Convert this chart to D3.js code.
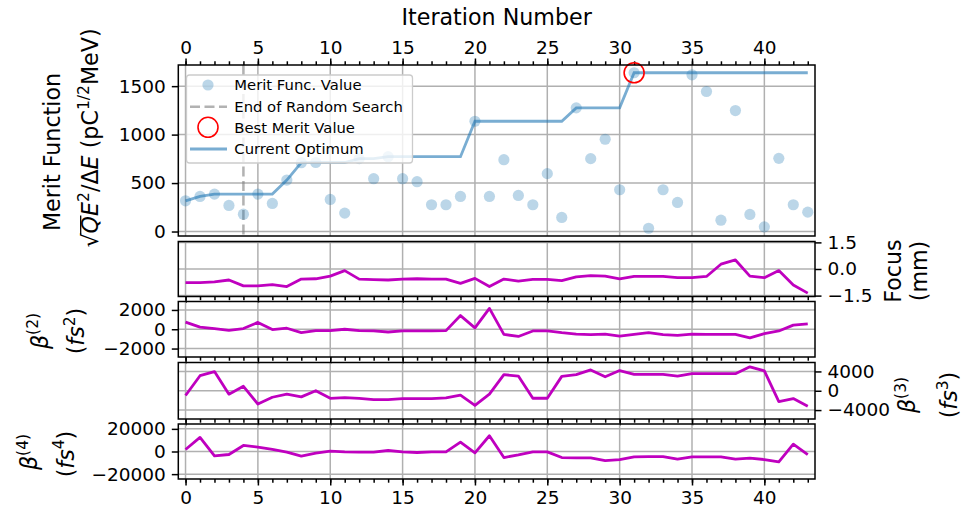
<!DOCTYPE html>
<html>
<head>
<meta charset="utf-8">
<script src="https://cdn.jsdelivr.net/npm/d3@7"></script>
<style>
  body { margin: 0; background: #fff; }
  svg { display: block; }
  text { font-family: "DejaVu Sans", sans-serif; }
</style>
</head>
<body>
<svg id="chart" width="962" height="516"></svg>
<script>
// Optimisation history: merit function per iteration and the tuned laser parameters
const meritValues = [317, 362, 386, 269, 179, 386, 290, 531, 710, 712, 331, 190, 752, 545, 772, 545, 514, 276, 276, 362,
  1138, 362, 741, 372, 276, 597, 145, 1276, 752, 952, 431, 1638, 34, 431, 300, 1617, 1445, 117, 1248, 176, 48, 755, 276, 200];
const focusMm = [-0.77, -0.77, -0.73, -0.62, -0.95, -0.95, -0.88, -0.99, -0.57, -0.55, -0.40, -0.09, -0.57, -0.60, -0.62,
  -0.57, -0.55, -0.57, -0.57, -0.81, -0.53, -0.99, -0.57, -0.68, -0.59, -0.59, -0.66, -0.44, -0.37, -0.40, -0.55, -0.42,
  -0.42, -0.42, -0.49, -0.49, -0.42, 0.27, 0.51, -0.40, -0.49, -0.09, -0.90, -1.36];
const beta2 = [745, 213, 71, -106, 71, 709, -35, 106, -355, -142, -142, 0, -142, -177, -284, -177, -177, -177, -142, 1418,
  142, 2163, -532, -745, -177, -177, -355, -496, -567, -496, -709, -532, -355, -567, -638, -496, -532, -532, -532, -887,
  -461, -177, 426, 567];
const beta3 = [-991, 3115, 3965, -708, 920, -2761, -1345, -708, -1274, 0, -1558, -1416, -1558, -1841, -1841, -1628, -1628,
  -1628, -1487, -920, -3044, -708, 3328, 3044, -1558, -1558, 2974, 3328, 4319, 2903, 4177, 3398, 3398, 3398, 3044, 3540,
  3540, 3540, 3540, 4956, 4106, -2266, -1628, -3186];
const beta4 = [1778, 12444, -3852, -2667, 5333, 3852, 1778, -593, -4148, -1481, 296, -296, -593, -593, 889, -296, -889,
  -296, -296, 8296, -1185, 13926, -5333, -2963, -296, -296, -5333, -5630, -5630, -8000, -7111, -4741, -4444, -4444, -6815,
  -4741, -4741, -4741, -6815, -5926, -7111, -9185, 6519, -2667];
const randomSearchEnd = 4;

const xMajorTicks = [0, 5, 10, 15, 20, 25, 30, 35, 40];
const meritTicks = [0, 500, 1000, 1500];
const focusTicks = [-1.5, 0, 1.5];
const beta2Ticks = [-2000, 0, 2000];
const beta3Ticks = [-4000, 0, 4000];
const beta4Ticks = [-20000, 0, 20000];
const legendLabels = ["Merit Func. Value", "End of Random Search", "Best Merit Value", "Current Optimum"];

const iterations = meritValues.map((_, i) => i);
const currentOptimum = [];
meritValues.reduce((best, v) => { const b = Math.max(best, v); currentOptimum.push(b); return b; }, -Infinity);
const bestIndex = d3.maxIndex(meritValues);

// ---- layout ----
const svg = d3.select("#chart");
const X0 = 178.3, X1 = 815;
const FS_TICK = 18.5, FS_LABEL = 22.2, FS_LEGEND = 14.8;
const BLUE = "#1f77b4", MAGENTA = "#bf00bf", GRID = "#b0b0b0";
const minus = s => String(s).replace("-", "\u2212");

const x = d3.scaleLinear().domain([-0.5, 43.5]).range([X0, X1]);

const mExt = d3.extent(meritValues), mPad = (mExt[1] - mExt[0]) * 0.05;
const panels = [
  { top: 65, bottom: 236, domain: [mExt[0] - mPad, mExt[1] + mPad], ticks: meritTicks, side: "left", fmt: d => minus(d) },
  { top: 241.5, bottom: 296.5, domain: [-1.55, 1.55], ticks: focusTicks, side: "right", fmt: d => minus(d3.format(".1f")(d)), data: focusMm },
  { top: 301.5, bottom: 357, domain: [-2875, 2875], ticks: beta2Ticks, side: "left", fmt: d => minus(d), data: beta2 },
  { top: 362.5, bottom: 419, domain: [-5850, 5850], ticks: beta3Ticks, side: "right", fmt: d => minus(d), data: beta3 },
  { top: 424, bottom: 479, domain: [-24300, 24300], ticks: beta4Ticks, side: "left", fmt: d => minus(d), data: beta4 }
];
panels.forEach(p => { p.y = d3.scaleLinear().domain(p.domain).range([p.bottom, p.top]); });

function styleAxis(g) {
  g.select(".domain").remove();
  g.attr("font-family", null).attr("font-size", null);
  g.selectAll(".tick line").attr("stroke", "#000").attr("stroke-width", 1.5);
  g.selectAll(".tick text").attr("fill", "#000").style("font-size", FS_TICK + "px");
}

panels.forEach((p, idx) => {
  const g = svg.append("g");
  // grid
  g.append("g").selectAll("line").data(xMajorTicks).join("line")
    .attr("x1", d => x(d)).attr("x2", d => x(d)).attr("y1", p.top).attr("y2", p.bottom)
    .attr("stroke", GRID).attr("stroke-width", 1.5);
  g.append("g").selectAll("line").data(p.ticks).join("line")
    .attr("x1", X0).attr("x2", X1).attr("y1", d => p.y(d)).attr("y2", d => p.y(d))
    .attr("stroke", GRID).attr("stroke-width", 1.5);

  // y axis
  const yAxis = (p.side === "left" ? d3.axisLeft(p.y) : d3.axisRight(p.y))
    .tickValues(p.ticks).tickSize(6.5).tickPadding(6).tickFormat(p.fmt);
  g.append("g").attr("transform", `translate(${p.side === "left" ? X0 : X1},0)`).call(yAxis).call(styleAxis);

  // x axis ticks (labels on top of first panel and bottom of last)
  const isTop = idx === 0, isLast = idx === panels.length - 1;
  const mk = isTop ? d3.axisTop : d3.axisBottom;
  const yPos = isTop ? p.top : p.bottom;
  g.append("g").attr("transform", `translate(0,${yPos})`)
    .call(mk(x).tickValues(iterations).tickSize(3.7).tickFormat("")).call(styleAxis);
  g.append("g").attr("transform", `translate(0,${yPos})`)
    .call(mk(x).tickValues(xMajorTicks).tickSize(6.5).tickPadding(5)
      .tickFormat(isTop || isLast ? d3.format("d") : "")).call(styleAxis);

  // data
  if (p.data) {
    g.append("path").datum(p.data)
      .attr("d", d3.line().x((d, i) => x(i)).y(d => p.y(d)))
      .attr("fill", "none").attr("stroke", MAGENTA).attr("stroke-width", 2.8)
      .attr("stroke-linejoin", "round");
  } else {
    g.append("line")
      .attr("x1", x(randomSearchEnd)).attr("x2", x(randomSearchEnd)).attr("y1", p.top).attr("y2", p.bottom)
      .attr("stroke", "#7f7f7f").attr("stroke-opacity", 0.6).attr("stroke-width", 2.5)
      .attr("stroke-dasharray", "10,4.5");
    g.append("g").selectAll("circle").data(meritValues).join("circle")
      .attr("cx", (d, i) => x(i)).attr("cy", d => p.y(d)).attr("r", 5.6)
      .attr("fill", BLUE).attr("fill-opacity", 0.3);
    g.append("path").datum(currentOptimum)
      .attr("d", d3.line().x((d, i) => x(i)).y(d => p.y(d)))
      .attr("fill", "none").attr("stroke", BLUE).attr("stroke-opacity", 0.6).attr("stroke-width", 2.8);
    g.append("circle").attr("cx", x(bestIndex)).attr("cy", p.y(meritValues[bestIndex])).attr("r", 10)
      .attr("fill", "none").attr("stroke", "red").attr("stroke-width", 1.6);
  }

  // frame
  g.append("rect").attr("x", X0).attr("y", p.top).attr("width", X1 - X0).attr("height", p.bottom - p.top)
    .attr("fill", "none").attr("stroke", "#000").attr("stroke-width", 1.5);
});

// ---- legend ----
const lg = svg.append("g");
lg.append("rect").attr("x", 186.5).attr("y", 75).attr("width", 226).attr("height", 88).attr("rx", 3)
  .attr("fill", "#fff").attr("fill-opacity", 0.8).attr("stroke", "#cccccc").attr("stroke-width", 1.3);
const rowY = [85, 106.7, 127.3, 149];
lg.append("circle").attr("cx", 208).attr("cy", rowY[0]).attr("r", 5.6).attr("fill", BLUE).attr("fill-opacity", 0.3);
lg.append("line").attr("x1", 190).attr("x2", 227).attr("y1", rowY[1]).attr("y2", rowY[1])
  .attr("stroke", "#7f7f7f").attr("stroke-opacity", 0.6).attr("stroke-width", 2.5).attr("stroke-dasharray", "10,4.5");
lg.append("circle").attr("cx", 208).attr("cy", rowY[2]).attr("r", 10)
  .attr("fill", "none").attr("stroke", "red").attr("stroke-width", 1.6);
lg.append("line").attr("x1", 190).attr("x2", 227).attr("y1", rowY[3]).attr("y2", rowY[3])
  .attr("stroke", BLUE).attr("stroke-opacity", 0.6).attr("stroke-width", 2.8);
lg.selectAll("text.lab").data(legendLabels).join("text").attr("class", "lab")
  .attr("x", 234.3).attr("y", (d, i) => rowY[i]).attr("dy", "0.36em")
  .style("font-size", FS_LEGEND + "px").attr("fill", "#000").text(d => d);

// ---- axis titles ----
svg.append("text").attr("x", (X0 + X1) / 2).attr("y", 25).attr("text-anchor", "middle")
  .style("font-size", FS_LABEL + "px").text("Iteration Number");

// rich text built from pieces: {t, it (italic), sup (superscript)}
function mathText(bx, by, parts) {
  const t = svg.append("text").attr("transform", `translate(${bx},${by}) rotate(-90)`)
    .attr("text-anchor", "middle").style("font-size", FS_LABEL + "px");
  let shift = 0;
  parts.forEach(p => {
    const target = p.sup ? -FS_LABEL * 0.42 : 0;
    const ts = t.append("tspan").text(p.t).attr("dy", target - shift);
    shift = target;
    if (p.sup) ts.style("font-size", (FS_LABEL * 0.7) + "px");
    if (p.it) ts.style("font-style", "italic");
  });
  return t;
}

mathText(60, 152, [{ t: "Merit Function" }]);
const meritUnits = mathText(98, 138, [
  { t: "\u221A" }, { t: "Q", it: true }, { t: "E", it: true }, { t: "2", sup: true }, { t: "/\u0394" }, { t: "E", it: true },
  { t: " (pC" }, { t: "1/2", sup: true }, { t: "MeV)" }
]);
// radical bar over Q
{
  const node = meritUnits.node();
  const r0 = node.getExtentOfChar(0), r1 = node.getExtentOfChar(1);
  const barY = -FS_LABEL * 0.78;
  d3.select(node.parentNode).append("line")
    .attr("transform", meritUnits.attr("transform"))
    .attr("x1", r0.x + r0.width - 1.2).attr("x2", r1.x + r1.width + 0.5)
    .attr("y1", barY).attr("y2", barY).attr("stroke", "#000").attr("stroke-width", 1.3);
}

mathText(47.5, 331, [{ t: "\u03B2", it: true }, { t: "(2)", sup: true }]);
mathText(84, 331, [{ t: "(" }, { t: "fs", it: true }, { t: "2", sup: true }, { t: ")" }]);
mathText(37, 452, [{ t: "\u03B2", it: true }, { t: "(4)", sup: true }]);
mathText(73.7, 454, [{ t: "(" }, { t: "fs", it: true }, { t: "4", sup: true }, { t: ")" }]);
mathText(900.7, 271, [{ t: "Focus" }]);
mathText(927, 271, [{ t: "(mm)" }]);
mathText(915, 395, [{ t: "\u03B2", it: true }, { t: "(3)", sup: true }]);
mathText(957, 395, [{ t: "(" }, { t: "fs", it: true }, { t: "3", sup: true }, { t: ")" }]);
</script>
</body>
</html>
